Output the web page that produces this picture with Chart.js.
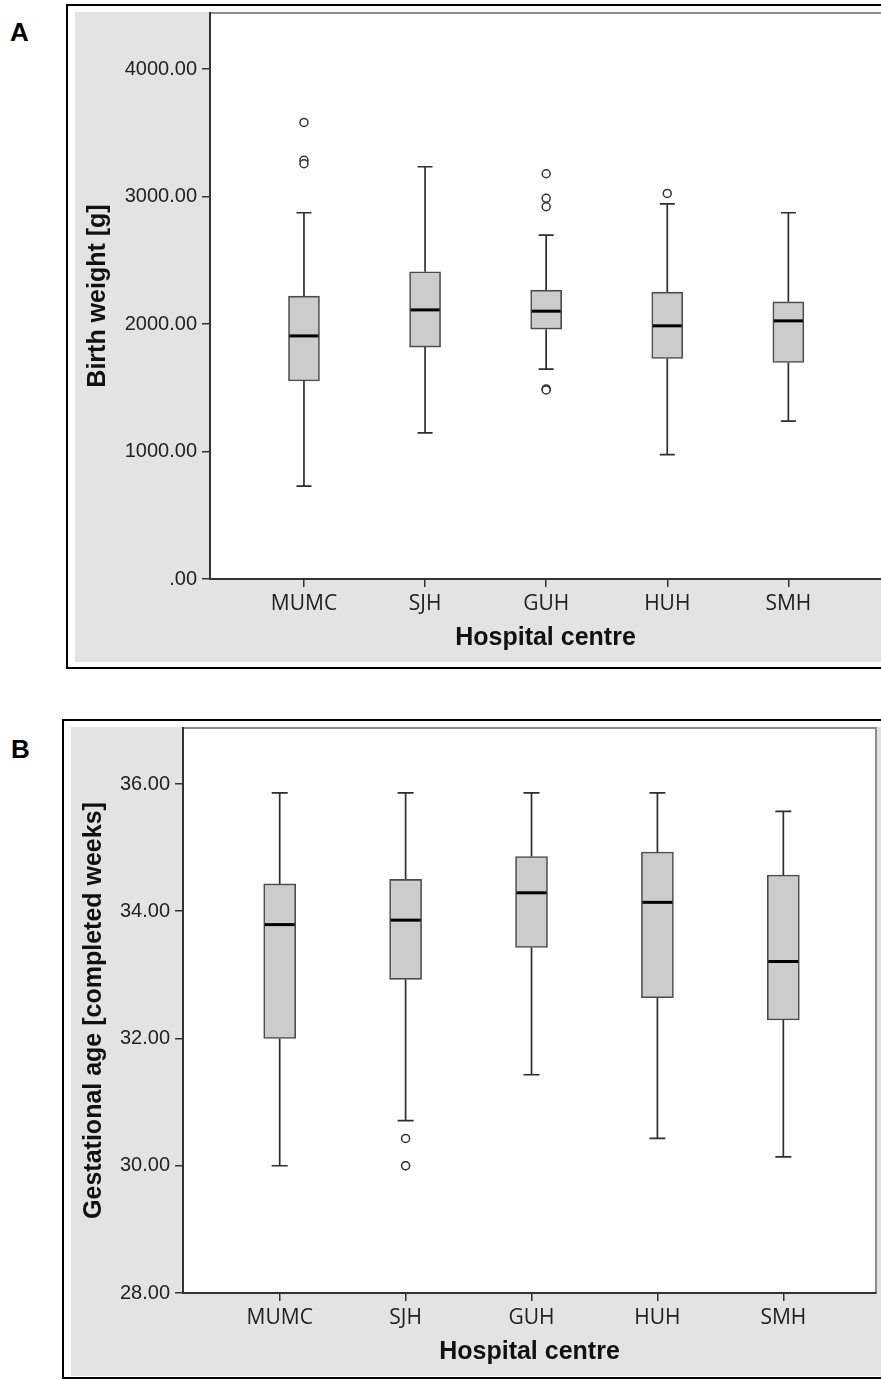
<!DOCTYPE html>
<html>
<head>
<meta charset="utf-8">
<title>Birth weight and gestational age by hospital centre</title>
<script src="https://cdn.jsdelivr.net/npm/chart.js@4.4.1/dist/chart.umd.min.js"></script>
<style>
  body { margin: 0; background: #fff; width: 881px; height: 1380px; overflow: hidden; position: relative; }
  .frame { position: absolute; border: 2px solid #000; }
  .panel-label { position: absolute; font: bold 26px 'Liberation Sans', Arial, sans-serif; line-height: 26px; color: #000; }
  canvas { position: absolute; background: #e3e3e3; }
</style>
</head>
<body>
<div class="panel-label" style="left:10px;top:19px">A</div>
<div class="frame" style="left:66px;top:4px;width:900px;height:661px"></div>
<canvas id="chartA" width="806" height="650" style="left:75px;top:12px;width:806px;height:650px"></canvas>

<div class="panel-label" style="left:11px;top:736px">B</div>
<div class="frame" style="left:62px;top:719px;width:900px;height:656px"></div>
<canvas id="chartB" width="810" height="649" style="left:71px;top:727px;width:810px;height:649px"></canvas>

<script>
const hospitals = ['MUMC', 'SJH', 'GUH', 'HUH', 'SMH'];

// A: birth weight [g]
const bwMin = [728, 1146, 1646, 976, 1238];
const bwQ1 = [1554, 1819, 1960, 1730, 1698];
const bwMedian = [1907, 2111, 2101, 1986, 2025];
const bwQ3 = [2219, 2410, 2266, 2250, 2174];
const bwMax = [2873, 3234, 2698, 2943, 2873];
const bwOutlierHospital = [0, 0, 0, 2, 2, 2, 2, 2, 3];
const bwOutlierValue = [3582, 3285, 3258, 3179, 2986, 2920, 1491, 1483, 3025];
const bwTicks = [0, 1000, 2000, 3000, 4000];
const bwTickLabels = ['.00', '1000.00', '2000.00', '3000.00', '4000.00'];

// B: gestational age [completed weeks]
const gaMin = [30.0, 30.71, 31.43, 30.43, 30.14];
const gaQ1 = [32.0, 32.93, 33.43, 32.64, 32.29];
const gaMedian = [33.79, 33.86, 34.29, 34.14, 33.21];
const gaQ3 = [34.43, 34.5, 34.86, 34.93, 34.57];
const gaMax = [35.86, 35.86, 35.86, 35.86, 35.57];
const gaOutlierHospital = [1, 1, 1];
const gaOutlierValue = [30.43, 30.0, 30.0];
const gaTicks = [28, 30, 32, 34, 36];
const gaTickLabels = ['28.00', '30.00', '32.00', '34.00', '36.00'];

const tickFont = { family: "'Liberation Sans', Arial, sans-serif", size: 20 };
const catFont = { family: "'Open Sans', 'Noto Sans', sans-serif", size: 21 };
const titleFont = { family: "'Liberation Sans', Arial, sans-serif", size: 25, weight: 'bold' };

// whiskers + medians, drawn with the chart's own scales
const boxPlot = {
  id: 'boxPlot',
  beforeDraw(chart, args, opts) {
    const ctx = chart.ctx, a = chart.chartArea;
    ctx.save();
    ctx.fillStyle = '#ffffff';
    ctx.fillRect(a.left, a.top, a.right - a.left, a.bottom - a.top);
    ctx.strokeStyle = '#8c8c8c';
    ctx.lineWidth = 2;
    ctx.beginPath();
    ctx.moveTo(a.left, a.top);
    ctx.lineTo(a.right, a.top);
    if (opts.rightEdge) ctx.lineTo(a.right, a.bottom);
    ctx.stroke();
    ctx.restore();
  },
  beforeDatasetsDraw(chart, args, opts) {
    const ctx = chart.ctx, x = chart.scales.x, y = chart.scales.y;
    const half = opts.capWidth / 2;
    ctx.save();
    ctx.strokeStyle = '#2e2e2e';
    ctx.lineWidth = 1.7;
    for (let i = 0; i < opts.q1.length; i++) {
      const px = x.getPixelForValue(i);
      const top = y.getPixelForValue(opts.max[i]);
      const bot = y.getPixelForValue(opts.min[i]);
      ctx.beginPath();
      ctx.moveTo(px, y.getPixelForValue(opts.q3[i]));
      ctx.lineTo(px, top);
      ctx.moveTo(px - half, top);
      ctx.lineTo(px + half, top);
      ctx.moveTo(px, y.getPixelForValue(opts.q1[i]));
      ctx.lineTo(px, bot);
      ctx.moveTo(px - half, bot);
      ctx.lineTo(px + half, bot);
      ctx.stroke();
    }
    ctx.restore();
  },
  afterDatasetsDraw(chart, args, opts) {
    const ctx = chart.ctx, x = chart.scales.x, y = chart.scales.y;
    const half = opts.boxWidth / 2 - 1;
    ctx.save();
    ctx.strokeStyle = '#000000';
    ctx.lineWidth = 3;
    for (let i = 0; i < opts.median.length; i++) {
      const px = x.getPixelForValue(i);
      const py = y.getPixelForValue(opts.median[i]);
      ctx.beginPath();
      ctx.moveTo(px - half, py);
      ctx.lineTo(px + half, py);
      ctx.stroke();
    }
    ctx.restore();
  }
};

function makeChart(id, d) {
  new Chart(document.getElementById(id), {
    type: 'bar',
    data: {
      datasets: [
        {
          data: hospitals.map((h, i) => ({ x: i, y: [d.q1[i], d.q3[i]] })),
          backgroundColor: '#cccccc',
          borderColor: '#4a4a4a',
          borderWidth: 1.6,
          borderSkipped: false,
          barThickness: d.boxWidth
        },
        {
          type: 'scatter',
          data: d.outHospital.map((h, k) => ({ x: h, y: d.outValue[k] })),
          pointStyle: 'circle',
          pointRadius: 4,
          pointBackgroundColor: '#ffffff',
          pointBorderColor: '#333333',
          pointBorderWidth: 1.5
        }
      ]
    },
    options: {
      responsive: false,
      animation: false,
      layout: { autoPadding: false, padding: { top: 1, right: d.padRight, left: 0, bottom: 0 } },
      plugins: {
        legend: { display: false },
        tooltip: { enabled: false },
        boxPlot: {
          q1: d.q1, q3: d.q3, min: d.min, max: d.max, median: d.median,
          boxWidth: d.boxWidth, capWidth: d.capWidth, rightEdge: d.rightEdge
        }
      },
      scales: {
        x: {
          type: 'linear',
          offset: false,
          min: d.xMin,
          max: d.xMax,
          afterBuildTicks: s => { s.ticks = hospitals.map((h, i) => ({ value: i })); },
          afterFit: s => {
            s.height = d.xHeight;
            s.paddingLeft = 0;
            s.paddingRight = 0;
          },
          grid: { drawOnChartArea: false, drawTicks: true, tickLength: 8, color: '#333333', lineWidth: 1.5, offset: false },
          border: { color: '#333333', width: 2 },
          ticks: {
            font: catFont, color: '#222222', padding: 4, maxRotation: 0, autoSkip: false,
            callback: v => hospitals[v]
          },
          title: { display: true, text: 'Hospital centre', font: titleFont, color: '#111111', padding: { top: 0, bottom: 9 } }
        },
        y: {
          min: d.yMin,
          max: d.yMax,
          afterBuildTicks: s => { s.ticks = d.ticks.map(v => ({ value: v })); },
          afterFit: s => {
            s.width = d.yWidth;
            s.paddingTop = 0;
            s.paddingBottom = 0;
          },
          grid: { drawOnChartArea: false, drawTicks: true, tickLength: 8, color: '#333333', lineWidth: 1.5 },
          border: { color: '#333333', width: 2 },
          ticks: {
            font: tickFont, color: '#222222', padding: 5,
            callback: v => d.tickLabels[d.ticks.indexOf(v)]
          },
          title: { display: true, text: d.yTitle, font: titleFont, color: '#111111', padding: { top: 8, bottom: 0 } }
        }
      }
    },
    plugins: [boxPlot]
  });
}

makeChart('chartA', {
  q1: bwQ1, q3: bwQ3, min: bwMin, max: bwMax, median: bwMedian,
  outHospital: bwOutlierHospital, outValue: bwOutlierValue,
  ticks: bwTicks, tickLabels: bwTickLabels, yTitle: 'Birth weight [g]',
  yMin: 0, yMax: 4440, xMin: -0.776, xMax: 4.765,
  yWidth: 135, xHeight: 83, padRight: 0, boxWidth: 31, capWidth: 15, rightEdge: false
});

makeChart('chartB', {
  q1: gaQ1, q3: gaQ3, min: gaMin, max: gaMax, median: gaMedian,
  outHospital: gaOutlierHospital, outValue: gaOutlierValue,
  ticks: gaTicks, tickLabels: gaTickLabels, yTitle: 'Gestational age [completed weeks]',
  yMin: 28, yMax: 36.88, xMin: -0.768, xMax: 4.736,
  yWidth: 112, xHeight: 83, padRight: 5, boxWidth: 32, capWidth: 16, rightEdge: true
});
</script>
</body>
</html>
